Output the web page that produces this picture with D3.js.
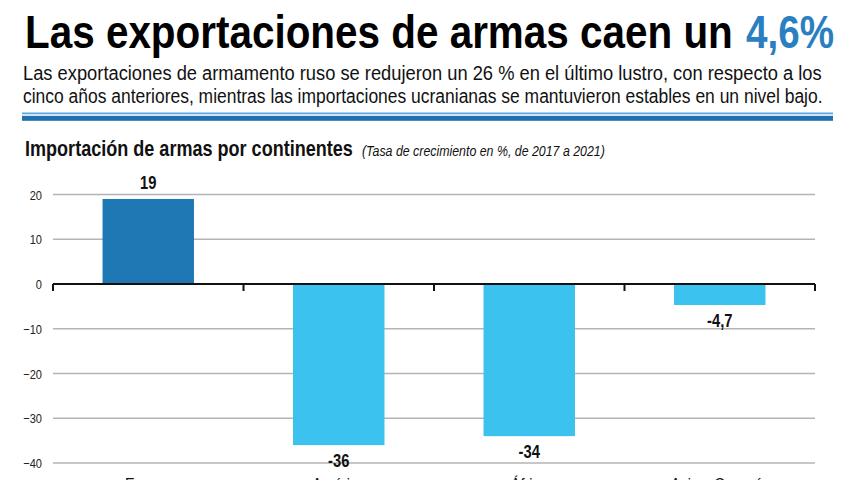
<!DOCTYPE html>
<html><head><meta charset="utf-8">
<script src="https://cdn.jsdelivr.net/npm/d3@7"></script>
<style>
body{margin:0;background:#fff;}
svg{display:block;}
text{font-family:'Liberation Sans',Arial,sans-serif;}
</style></head>
<body>
<svg id="c" width="860" height="480"></svg>
<script>
const categories = ["Europa", "América", "África", "Asia y Oceanía"];
const values = [19, -36, -34, -4.7];
const valueLabels = ["19", "-36", "-34", "-4,7"];
const yTicks = [20, 10, 0, -10, -20, -30, -40];
const titleMain = "Las exportaciones de armas caen un";
const titleHighlight = "4,6%";
const subtitleLines = ["Las exportaciones de armamento ruso se redujeron un 26 % en el último lustro, con respecto a los",
                       "cinco años anteriores, mientras las importaciones ucranianas se mantuvieron estables en un nivel bajo."];
const chartTitle = "Importación de armas por continentes";
const chartNote = "(Tasa de crecimiento en %, de 2017 a 2021)";

const svg = d3.select("#c");

// Condensed text: a group translated to (X,Y) and scaled horizontally.
// opt.width -> fit to that width; opt.factor -> scale by factor.
function cText(parent, X, Y, str, opt) {
  const g = parent.append("g");
  const t = g.append("text").attr("x", 0).attr("y", 0)
    .attr("text-anchor", opt.anchor || "start")
    .attr("fill", opt.fill || "#111")
    .style("font-size", opt.size + "px")
    .style("font-weight", opt.bold ? "bold" : "normal")
    .style("font-style", opt.italic ? "italic" : "normal")
    .text(str);
  const L = t.node().getComputedTextLength();
  const s = opt.width ? opt.width / L : (opt.factor || 0.84);
  g.attr("transform", `translate(${X},${Y}) scale(${s},1)`);
  return g;
}

// Header
cText(svg, 25, 48, titleMain, {size: 46, bold: true, width: 708, fill: "#000"});
cText(svg, 746, 48, titleHighlight, {size: 46, bold: true, width: 88, fill: "#2a7fc1"});

cText(svg, 23, 80, subtitleLines[0], {size: 19.5, width: 799});
cText(svg, 23, 102.5, subtitleLines[1], {size: 19.5, width: 800});

svg.append("rect").attr("x", 22).attr("y", 112.5).attr("width", 811).attr("height", 1.8).attr("fill", "#5aa8dd");
svg.append("rect").attr("x", 22).attr("y", 115.8).attr("width", 811).attr("height", 5).attr("fill", "#1f72b0");

cText(svg, 25, 156, chartTitle, {size: 21.5, bold: true, width: 328});
cText(svg, 362, 156, chartNote, {size: 14, italic: true, width: 243});

// Scales
const x0 = 53, x1 = 815;
const x = d3.scaleBand().domain(categories).range([x0, x1]).paddingInner(0.52).paddingOuter(0.26);
const y = d3.scaleLinear().domain([-40, 20]).range([463, 194.5]);

// gridlines
svg.append("g").selectAll("line").data(yTicks.filter(d => d !== 0)).enter().append("line")
  .attr("x1", x0).attr("x2", x1).attr("y1", d => y(d)).attr("y2", d => y(d))
  .attr("stroke", "#b4b4b4").attr("stroke-width", 1.5);

// y tick labels (axis)
const yAxis = svg.append("g").attr("transform", `translate(${x0},0)`)
  .call(d3.axisLeft(y).tickValues(yTicks).tickSize(0).tickPadding(11).tickFormat(d3.format("d")));
yAxis.select(".domain").remove();
yAxis.selectAll("text").style("font-family", "'Liberation Sans',Arial,sans-serif")
  .style("font-size", "13px").attr("fill", "#222").attr("dy", "0.35em")
  .attr("x", -11 / 0.85).attr("transform", "scale(0.85,1)");

// bars
svg.append("g").selectAll("rect").data(categories).enter().append("rect")
  .attr("x", d => x(d)).attr("width", x.bandwidth())
  .attr("y", (d, i) => y(Math.max(0, values[i])))
  .attr("height", (d, i) => Math.abs(y(values[i]) - y(0)))
  .attr("fill", (d, i) => i === 0 ? "#1f77b4" : "#3bc2ee");

// zero axis with boundary ticks
svg.append("line").attr("x1", x0).attr("x2", x1).attr("y1", y(0)).attr("y2", y(0))
  .attr("stroke", "#111").attr("stroke-width", 2);
const bounds = categories.map(c => x(c) - x.step() * 0.26).concat([x1]);
svg.append("g").selectAll("line").data(bounds).enter().append("line")
  .attr("x1", d => d).attr("x2", d => d).attr("y1", y(0)).attr("y2", y(0) + 7)
  .attr("stroke", "#111").attr("stroke-width", 2);

// value labels
const vg = svg.append("g");
categories.forEach((c, i) => {
  const yy = values[i] >= 0 ? y(values[i]) - 10 : y(values[i]) + 22;
  cText(vg, x(c) + x.bandwidth() / 2, yy, valueLabels[i], {size: 18, bold: true, anchor: "middle", factor: 0.82});
});

// category labels (mostly below the visible area)
const cg = svg.append("g");
categories.forEach((c) => {
  cText(cg, x(c) + x.bandwidth() / 2, 489.5, c, {size: 17, anchor: "middle", factor: 0.85});
});
</script>
</body></html>
